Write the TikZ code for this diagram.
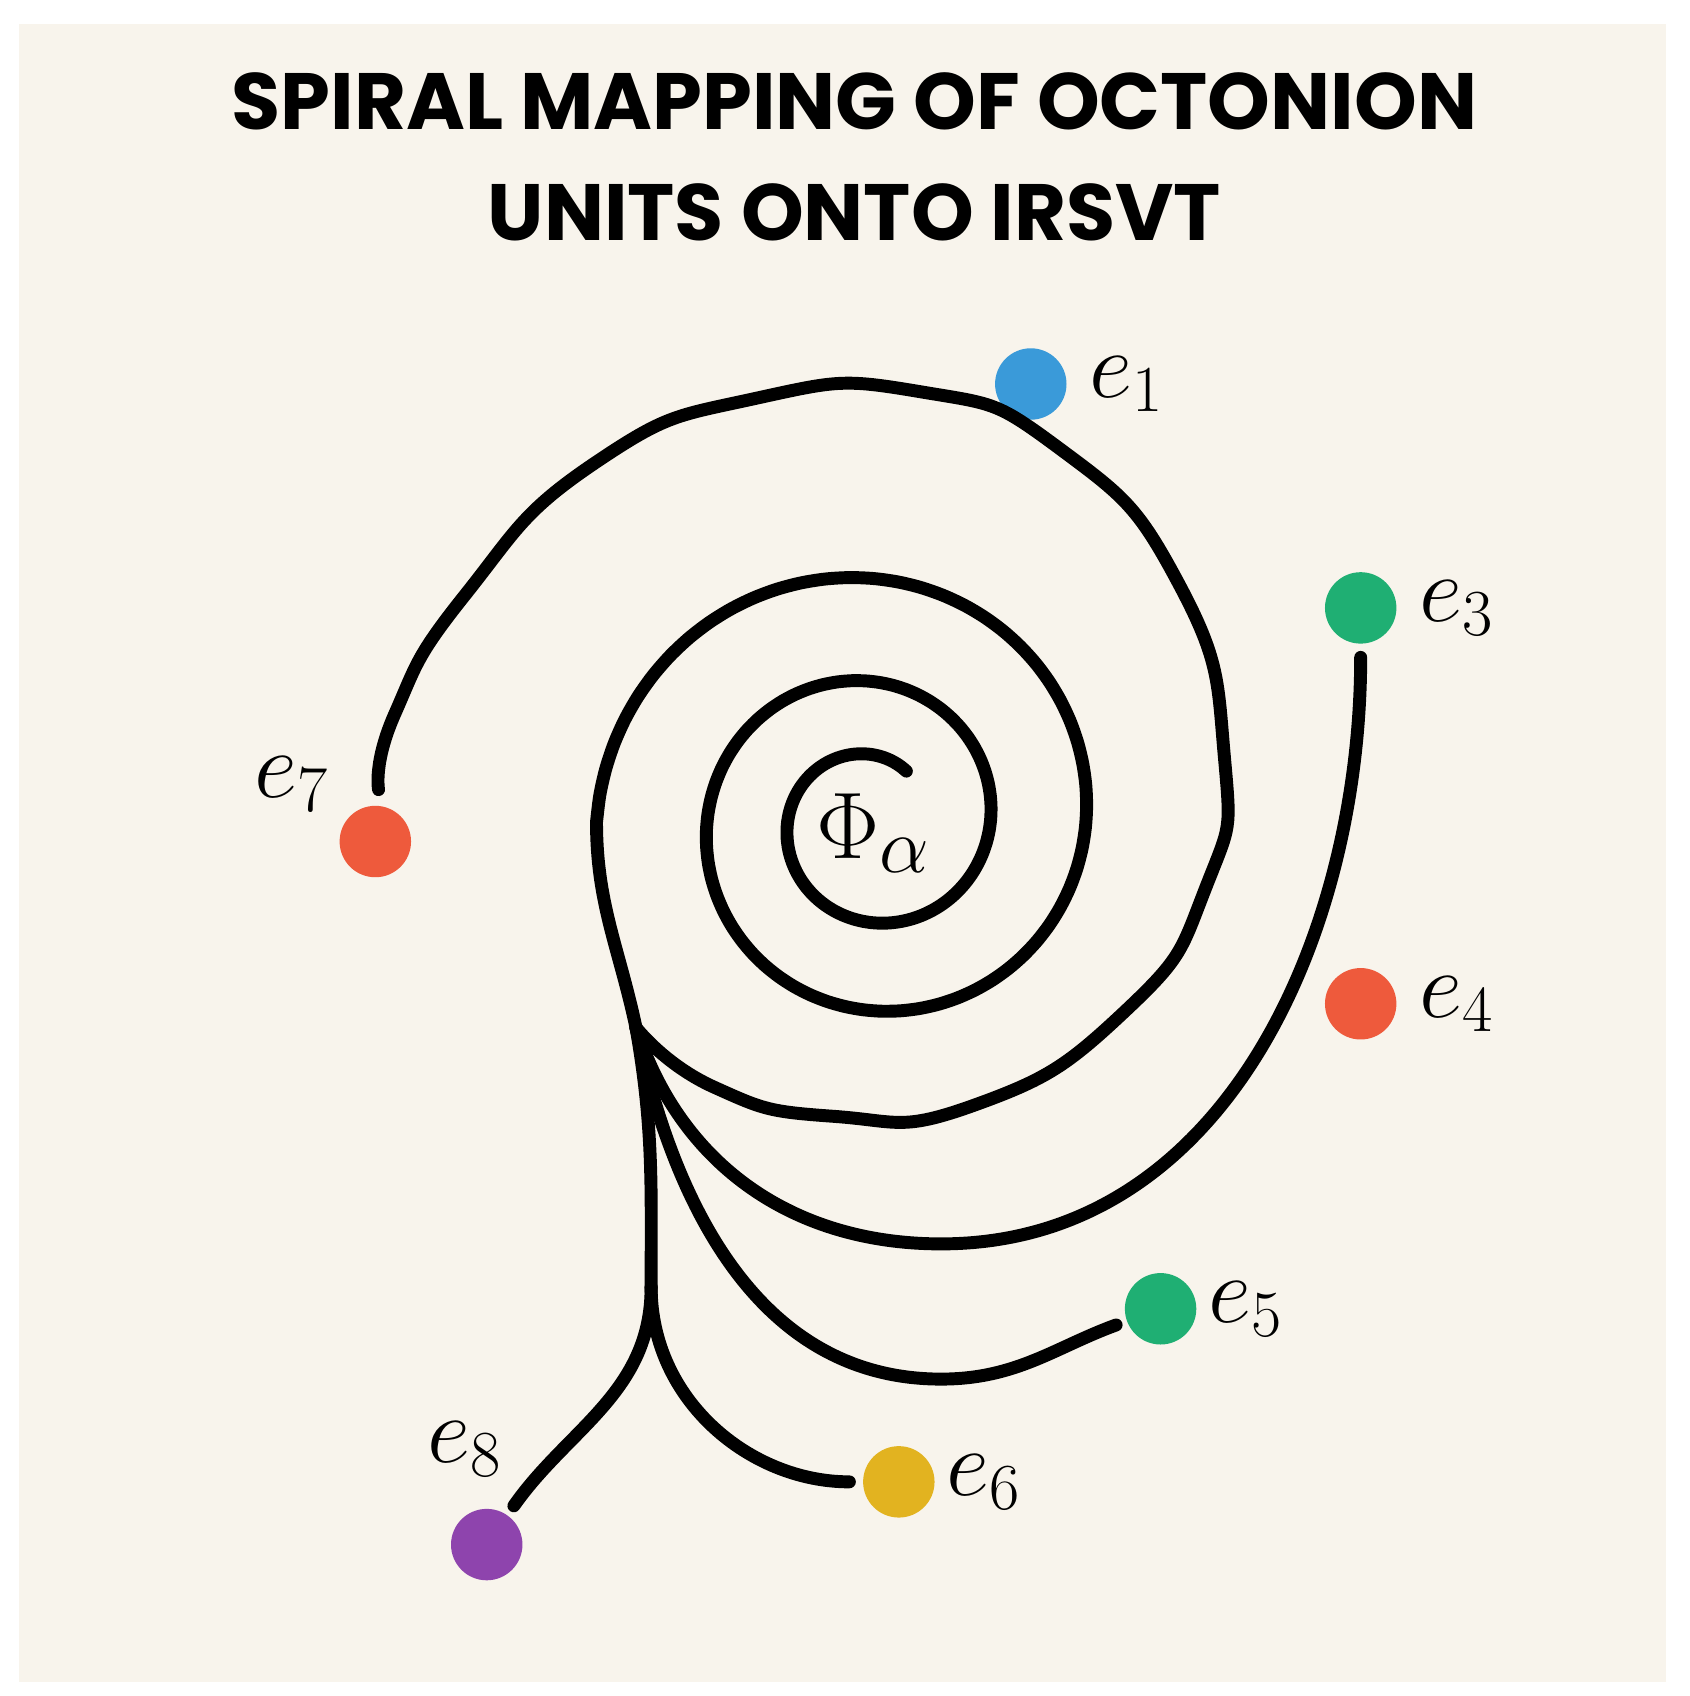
\documentclass[tikz,border=0pt]{standalone}
\usepackage{fontspec}
\setmainfont{Poppins}
\usetikzlibrary{positioning}
\definecolor{bgc}{HTML}{F8F4EC}
\definecolor{eblue}{HTML}{3A9AD9}
\definecolor{egreen}{HTML}{1FAF73}
\definecolor{ered}{HTML}{EE5A3C}
\definecolor{eyellow}{HTML}{E2B320}
\definecolor{epurple}{HTML}{8E44AD}
\tikzset{
  curve/.style={line width=3.4pt, line cap=round, black},
  dot/.style={circle, inner sep=0pt, minimum size=0.66cm},
  lab/.style={font=\fontsize{26}{30}\selectfont, inner sep=0pt},
}
\begin{document}
\begin{tikzpicture}[x=0.01cm, y=-0.01cm]
\useasboundingbox (0,0) rectangle (1562,1568);
\fill[white] (0,0) rectangle (1562,1568);
\fill[bgc] (18,22) rectangle (1540,1555);

% title
\node (title) [font=\bfseries\fontsize{21}{29}\selectfont, align=center] at (790,145)
  {SPIRAL MAPPING OF OCTONION\\UNITS ONTO IRSVT};

% units
\node (d1) [dot, fill=eblue] at (953,355) {};
\node (d3) [dot, fill=egreen] at (1258,562) {};
\node (d4) [dot, fill=ered] at (1258,928) {};
\node (d5) [dot, fill=egreen] at (1073,1210) {};
\node (d6) [dot, fill=eyellow] at (831,1370) {};
\node (d8) [dot, fill=epurple] at (450,1428) {};
\node (d7) [dot, fill=ered] at (347,778) {};

\node (l1) [lab, right=0.2cm of d1] {$e_1$};
\node (l3) [lab, right=0.2cm of d3] {$e_3$};
\node (l4) [lab, right=0.2cm of d4] {$e_4$};
\node (l5) [lab, right=0.1cm of d5] {$e_5$};
\node (l6) [lab, right=0.1cm of d6] {$e_6$};
\node (l8) [lab] at (430,1340) {$e_8$};
\node (l7) [lab] at (270,725) {$e_7$};
\node (phi) [font=\fontsize{28}{32}\selectfont] at (808,770) {$\Phi_\alpha$};

\coordinate (hub) at (588,950);
\coordinate (fork) at (602,1190);

% spiral
\draw[curve] plot[domain=55:900, samples=150, smooth]
  ({805+(50+0.13*\x+0.00011*\x*\x)*cos(\x)}, {760-(50+0.13*\x+0.00011*\x*\x)*sin(\x)})
  to[out=-90, in=102] (hub);
\draw[curve] plot[smooth, tension=0.9] coordinates {(hub) (660,1005) (770,1032) (900,1022)
  (1040,935) (1115,820) (1132,700) (1090,540) (980,415) (850,362) (700,368) (550,428)
  (430,550) (365,660) (350,730)};
\draw[curve, shorten >=0.12cm] (hub) to[out=-72, in=180] (870,1150) to[out=0, in=-90] (d3);
\draw[curve, shorten >=0.1cm] (hub) to[out=-78, in=180] (870,1275) to[out=0, in=-160] (d5);
\draw[curve] (hub) to[out=-80, in=90] (fork);
\draw[curve, shorten >=0.12cm] (fork) to[out=-90, in=180] (d6);
\draw[curve, shorten >=0.1cm] (fork) to[out=-90, in=55] (d8);
\end{tikzpicture}
\end{document}
